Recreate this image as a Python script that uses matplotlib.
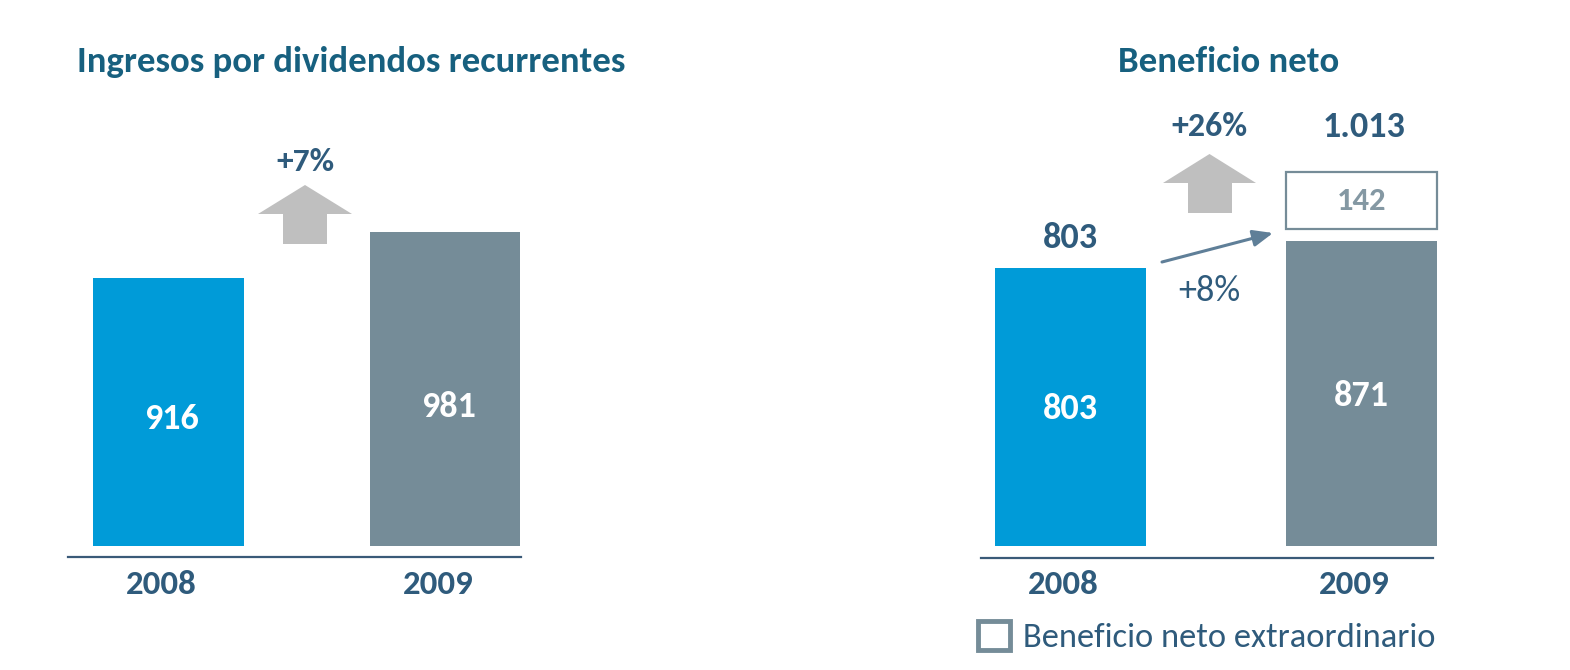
import numpy as np
import matplotlib
matplotlib.use("Agg")
import matplotlib.pyplot as plt
from matplotlib.patches import Polygon, Patch

# ---------------- data ----------------
years = ["2008", "2009"]
dividendos = [916, 981]              # Ingresos por dividendos recurrentes
beneficio_recurrente = [803, 871]    # Beneficio neto (sin extraordinario)
beneficio_extra = [0, 142]           # Beneficio neto extraordinario
title_left = "Ingresos por dividendos recurrentes"
title_right = "Beneficio neto"
legend_label = "Beneficio neto extraordinario"

# ---------------- style ----------------
FONT = ["Carlito", "Lato", "DejaVu Sans"]
plt.rcParams["font.family"] = FONT
BLUE = "#009BD8"
GREY = "#758C98"
ARROW_GREY = "#BFBFBF"
DARK = "#2F5B7C"
TITLE = "#17607F"
BOX_TXT = "#8498A3"
LINE = "#5F7F98"
VAL_FS = 26
TITLE_FS = 26.5

W, H = 1570, 670
fig = plt.figure(figsize=(W / 100, H / 100), dpi=100)
fig.patch.set_facecolor("white")


def add_ax(l, r, b, t):
    return fig.add_axes([l / W, 1 - b / H, (r - l) / W, (b - t) / H])


def fmt(v):
    return f"{v:,}".replace(",", ".")


def pct(a, b):
    return f"+{round((b / a - 1) * 100):d}%"


def setup(ax, xlim, base, scale, bar_px=546, top_px=100):
    ax.set_xlim(*xlim)
    pos = ax.get_position()
    b_px = H - pos.y0 * H
    lo = base - (b_px - bar_px) / scale
    hi = base + (bar_px - top_px) / scale
    ax.set_ylim(lo, hi)
    for s in ["left", "right", "top"]:
        ax.spines[s].set_visible(False)
    ax.spines["bottom"].set_color("#3A5A78")
    ax.spines["bottom"].set_linewidth(1.6)
    ax.set_yticks([])
    ax.set_xticks([])
    ax.patch.set_alpha(0)
    for xi, yr in enumerate(years):
        ax.annotate(yr, (xi, 0), xycoords=("data", "axes fraction"), xytext=(-7, -27),
                    textcoords="offset pixels", ha="center", va="center", fontsize=25,
                    fontweight="bold", color=DARK, annotation_clip=False)


def up_arrow(x0, x1, top, shoulder, s0, s1, bottom):
    pts = [(x0, shoulder), ((x0 + x1) / 2, top), (x1, shoulder), (s1, shoulder),
           (s1, bottom), (s0, bottom), (s0, shoulder)]
    pts = [(x / W, 1 - y / H) for x, y in pts]
    fig.patches.append(Polygon(pts, closed=True, transform=fig.transFigure,
                               facecolor=ARROW_GREY, edgecolor="none"))


x = np.arange(len(years))
colors = [BLUE, GREY]

# ---------------- left panel ----------------
ax1 = add_ax(68, 521, 557, 100)
base1 = 537
setup(ax1, (-0.3635, 1.2749), base1, 0.707)
ax1.bar(x, np.array(dividendos) - base1, bottom=base1, width=0.546, color=colors)
for xi, v, dy in zip(x, dividendos, [-7, -18]):
    ax1.annotate(f"{v}", (xi, (v + base1) / 2), xytext=(3, dy), textcoords="offset pixels",
                 ha="center", va="center", fontsize=VAL_FS, fontweight="bold", color="white")
fig.text(77 / W, 1 - 72 / H, title_left, fontsize=TITLE_FS, fontweight="bold", color=TITLE,
         ha="left", va="baseline")
up_arrow(258, 352, 185, 214, 283, 327, 244)
fig.text(305 / W, 1 - 162 / H, pct(dividendos[0], dividendos[1]), fontsize=24,
         fontweight="bold", color=DARK, ha="center", va="center")

# ---------------- right panel ----------------
ax2 = add_ax(981, 1433, 558, 100)
base2 = 109
setup(ax2, (-0.3076, 1.2457), base2, 0.40)
bars = ax2.bar(x, np.array(beneficio_recurrente) - base2, bottom=base2, width=0.519,
               color=colors)
for b in bars:
    b.set_clip_on(False)
for xi, v in zip(x, beneficio_recurrente):
    ax2.annotate(f"{v}", (xi, (v + base2) / 2), xytext=(0, -2), textcoords="offset pixels",
                 ha="center", va="center", fontsize=VAL_FS, fontweight="bold", color="white")
# total label above 2008 bar
ax2.annotate(fmt(beneficio_recurrente[0]), (0, beneficio_recurrente[0]), xytext=(0, 30),
             textcoords="offset pixels", ha="center", va="center", fontsize=VAL_FS,
             fontweight="bold", color=DARK, annotation_clip=False)
# extraordinary box
gap = 30
ext_bottom = beneficio_recurrente[1] + gap
box = ax2.bar([1], [beneficio_extra[1]], bottom=ext_bottom, width=0.519, facecolor="white",
              edgecolor=GREY, linewidth=1.6)
box[0].set_clip_on(False)
ax2.annotate(f"{beneficio_extra[1]}", (1, ext_bottom + beneficio_extra[1] / 2),
             ha="center", va="center", fontsize=23.5, fontweight="bold", color=BOX_TXT,
             annotation_clip=False)
total = beneficio_recurrente[1] + beneficio_extra[1]
ax2.annotate(fmt(total), (1, ext_bottom + beneficio_extra[1]), xytext=(3, 45),
             textcoords="offset pixels", ha="center", va="center", fontsize=VAL_FS,
             fontweight="bold", color=DARK, annotation_clip=False)
fig.text(1229 / W, 1 - 72 / H, title_right, fontsize=TITLE_FS, fontweight="bold", color=TITLE,
         ha="center", va="baseline")
up_arrow(1163, 1256, 154, 183, 1188, 1232, 213)
fig.text(1209 / W, 1 - 127 / H, pct(beneficio_recurrente[0], total), fontsize=24.5,
         fontweight="bold", color=DARK, ha="center", va="center")
# +8% arrow
ax2.annotate("", xy=(1273, H - 233), xycoords="figure pixels", xytext=(1162, H - 262),
             textcoords="figure pixels",
             arrowprops=dict(arrowstyle="-|>,head_length=1.2,head_width=0.5", color=LINE,
                             lw=2.2, shrinkA=0, shrinkB=0))
fig.text(1209 / W, 1 - 291 / H, pct(beneficio_recurrente[0], beneficio_recurrente[1]),
         fontsize=26, color=DARK, ha="center", va="center")

# legend
handle = Patch(facecolor="white", edgecolor=GREY, linewidth=3.5)
fig.legend([handle], [legend_label], loc="center left",
           bbox_to_anchor=(978 / W, 1 - 637 / H), frameon=False, fontsize=24.8,
           labelcolor=DARK, handlelength=0.92, handleheight=0.92, handletextpad=0.4,
           borderpad=0, borderaxespad=0)

fig.savefig("out.png", dpi=100, facecolor="white")
